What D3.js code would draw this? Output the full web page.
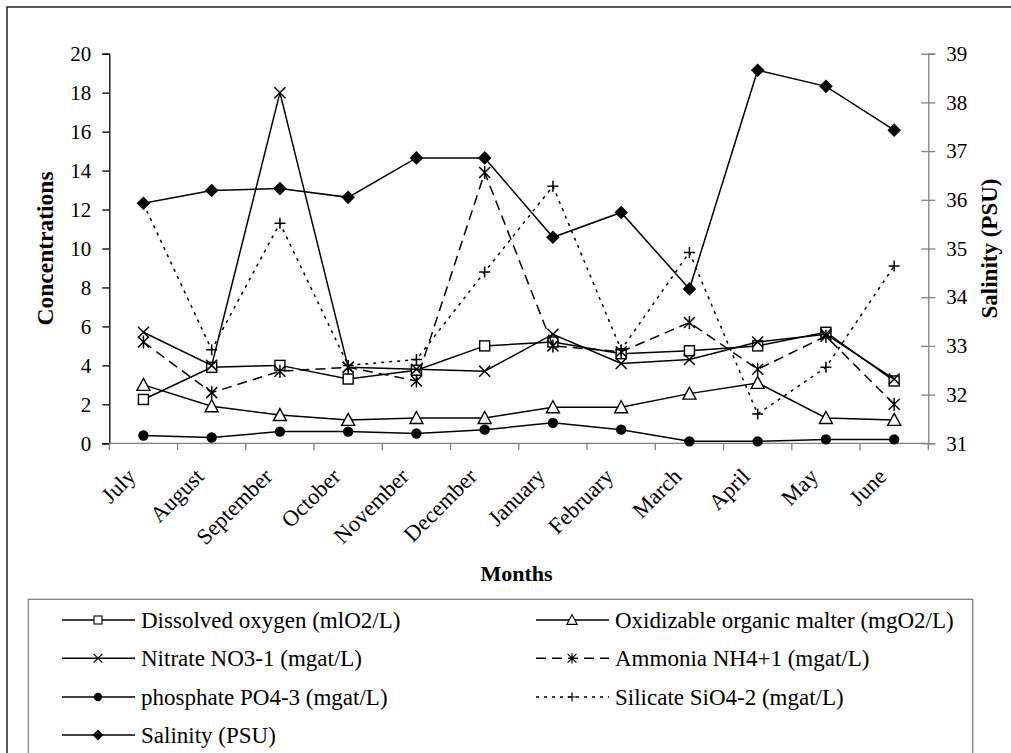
<!DOCTYPE html>
<html>
<head>
<meta charset="utf-8">
<script src="https://cdn.jsdelivr.net/npm/d3@7/dist/d3.min.js"></script>
<style>
  body { margin: 0; background: #fff; }
  svg text { font-family: 'Liberation Serif', 'Times New Roman', serif; fill: #000; }
</style>
</head>
<body>
<svg id="chart" width="1011" height="753"></svg>
<script>
// months along the x axis
const months = ['July', 'August', 'September', 'October', 'November', 'December',
  'January', 'February', 'March', 'April', 'May', 'June'];

// concentrations (left axis)
const dissolvedOxygen = [2.25, 3.9, 4.0, 3.3, 3.75, 5.0, 5.2, 4.6, 4.75, 5.0, 5.7, 3.2];
const organicMatter   = [3.0, 1.9, 1.45, 1.2, 1.3, 1.3, 1.85, 1.85, 2.55, 3.1, 1.3, 1.2];
const nitrate         = [5.7, 4.0, 18.0, 3.9, 3.8, 3.7, 5.6, 4.1, 4.3, 5.2, 5.6, 3.3];
const ammonia         = [5.2, 2.6, 3.7, 3.9, 3.2, 13.9, 5.0, 4.7, 6.2, 3.8, 5.5, 2.0];
const phosphate       = [0.4, 0.3, 0.6, 0.6, 0.5, 0.7, 1.05, 0.7, 0.1, 0.1, 0.2, 0.2];
const silicate        = [12.3, 4.8, 11.3, 4.0, 4.3, 8.8, 13.2, 4.8, 9.8, 1.5, 3.9, 9.1];

// salinity (right axis)
const salinity = [35.93, 36.19, 36.23, 36.05, 36.86, 36.86, 35.23, 35.74, 34.17, 38.66, 38.33, 37.43];

const leftTicks = [0, 2, 4, 6, 8, 10, 12, 14, 16, 18, 20];
const rightTicks = [31, 32, 33, 34, 35, 36, 37, 38, 39];

const series = [
  { name: 'Dissolved oxygen (mlO2/L)', values: dissolvedOxygen, marker: 'square', dash: null, axis: 'left' },
  { name: 'Oxidizable organic malter (mgO2/L)', values: organicMatter, marker: 'triangle', dash: null, axis: 'left' },
  { name: 'Nitrate NO3-1 (mgat/L)', values: nitrate, marker: 'x', dash: null, axis: 'left' },
  { name: 'Ammonia NH4+1 (mgat/L)', values: ammonia, marker: 'star', dash: '10,6', axis: 'left' },
  { name: 'phosphate PO4-3 (mgat/L)', values: phosphate, marker: 'circle', dash: null, axis: 'left' },
  { name: 'Silicate SiO4-2 (mgat/L)', values: silicate, marker: 'plus', dash: '3,5', axis: 'left' },
  { name: 'Salinity (PSU)', values: salinity, marker: 'diamond', dash: null, axis: 'right' }
];

const svg = d3.select('#chart');
const plot = { left: 109.3, right: 928.3, top: 53.7, bottom: 443.3 };

// outer frame
svg.append('rect')
  .attr('x', 7).attr('y', 7).attr('width', 1020).attr('height', 760)
  .attr('fill', 'none').attr('stroke', '#000').attr('stroke-width', 1.3);

const x = d3.scalePoint().domain(months).range([plot.left, plot.right]).padding(0.5);
const xEdge = d3.scaleLinear().domain([0, months.length]).range([plot.left, plot.right]);
const yLeft = d3.scaleLinear().domain([0, 20]).range([plot.bottom, plot.top]);
const yRight = d3.scaleLinear().domain([31, 39]).range([plot.bottom, plot.top]);

// axes
const gLeft = svg.append('g').attr('transform', `translate(${plot.left},0)`)
  .call(d3.axisLeft(yLeft).tickValues(leftTicks).tickSize(7).tickPadding(11));
const gRight = svg.append('g').attr('transform', `translate(${plot.right},0)`)
  .call(d3.axisRight(yRight).tickValues(rightTicks).tickSize(7).tickPadding(11));
// right ticks cross the axis
gRight.selectAll('.tick line').attr('x1', -7);
gRight.selectAll('path.domain, .tick line').attr('stroke', '#808080');

const gBottom = svg.append('g').attr('transform', `translate(0,${plot.bottom})`);
gBottom.append('line')
  .attr('x1', plot.left).attr('x2', plot.right)
  .attr('stroke', '#808080').attr('stroke-width', 1.3);
gBottom.selectAll('line.tk').data(d3.range(months.length + 1)).join('line')
  .attr('class', 'tk')
  .attr('x1', d => xEdge(d)).attr('x2', d => xEdge(d))
  .attr('y1', 0).attr('y2', 7)
  .attr('stroke', '#808080').attr('stroke-width', 1.3);
gBottom.selectAll('text').data(months).join('text')
  .attr('transform', d => `translate(${x(d) - 12},${29}) rotate(-45)`)
  .attr('text-anchor', 'end')
  .attr('dy', '0.35em')
  .style('font-size', '22.5px')
  .text(d => d);

gLeft.select('path.domain').attr('stroke', '#000').attr('stroke-width', 1.3);
gLeft.selectAll('.tick line').attr('stroke', '#000').attr('stroke-width', 1.3);
gRight.select('path.domain').attr('stroke-width', 1.3);
gRight.selectAll('.tick line').attr('stroke-width', 1.3);
[gLeft, gRight].forEach(g => {
  g.selectAll('.tick text').style('font-size', '21px').style('font-family', "'Liberation Serif', serif");
});

// axis titles
svg.append('text')
  .attr('transform', `translate(53,${(plot.top + plot.bottom) / 2}) rotate(-90)`)
  .attr('text-anchor', 'middle')
  .style('font-size', '23.5px').style('font-weight', 'bold')
  .text('Concentrations');
svg.append('text')
  .attr('transform', `translate(997,${(plot.top + plot.bottom) / 2}) rotate(-90)`)
  .attr('text-anchor', 'middle')
  .style('font-size', '23px').style('font-weight', 'bold')
  .text('Salinity (PSU)');
svg.append('text')
  .attr('x', 516.5).attr('y', 581)
  .attr('text-anchor', 'middle')
  .style('font-size', '22px').style('font-weight', 'bold')
  .text('Months');

// marker drawing
function drawMarker(g, type) {
  const r = 5.5;
  if (type === 'square') {
    g.append('rect').attr('x', -5).attr('y', -5).attr('width', 10).attr('height', 10)
      .attr('fill', '#fff').attr('stroke', '#000').attr('stroke-width', 1.4);
  } else if (type === 'triangle') {
    g.append('path').attr('d', 'M0,-6.5L6.5,5.5L-6.5,5.5Z')
      .attr('fill', '#fff').attr('stroke', '#000').attr('stroke-width', 1.4);
  } else if (type === 'circle') {
    g.append('circle').attr('r', 5.2).attr('fill', '#000');
  } else if (type === 'diamond') {
    g.append('path').attr('d', 'M0,-6.8L6.8,0L0,6.8L-6.8,0Z').attr('fill', '#000');
  } else if (type === 'x') {
    g.append('path').attr('d', `M${-r},${-r}L${r},${r}M${-r},${r}L${r},${-r}`)
      .attr('stroke', '#000').attr('stroke-width', 1.5);
  } else if (type === 'star') {
    g.append('path').attr('d', `M${-r},${-r}L${r},${r}M${-r},${r}L${r},${-r}M0,${-r - 1}L0,${r + 1}`)
      .attr('stroke', '#000').attr('stroke-width', 1.5);
  } else if (type === 'plus') {
    g.append('path').attr('d', `M${-r},0L${r},0M0,${-r}L0,${r}`)
      .attr('stroke', '#000').attr('stroke-width', 1.5);
  }
}

// series
series.forEach(s => {
  const y = s.axis === 'left' ? yLeft : yRight;
  const line = d3.line().x((d, i) => x(months[i])).y(d => y(d));
  svg.append('path')
    .datum(s.values)
    .attr('d', line)
    .attr('fill', 'none')
    .attr('stroke', '#000')
    .attr('stroke-width', 1.5)
    .attr('stroke-dasharray', s.dash);
  svg.append('g').selectAll('g').data(s.values).join('g')
    .attr('transform', (d, i) => `translate(${x(months[i])},${y(d)})`)
    .each(function () { drawMarker(d3.select(this), s.marker); });
});

// legend
svg.append('rect')
  .attr('x', 28.3).attr('y', 599.3).attr('width', 944.4).attr('height', 170)
  .attr('fill', 'none').attr('stroke', '#808080').attr('stroke-width', 1.3);

const legendCols = [62, 536];
const legendRows = [620, 658.3, 697, 735];
series.forEach((s, k) => {
  const cx = legendCols[k % 2];
  const cy = legendRows[Math.floor(k / 2)];
  const g = svg.append('g').attr('transform', `translate(${cx},${cy})`);
  g.append('line').attr('x1', 0).attr('x2', 73).attr('y1', 0).attr('y2', 0)
    .attr('stroke', '#000').attr('stroke-width', 1.4)
    .attr('stroke-dasharray', s.dash);
  const m = g.append('g').attr('transform', 'translate(36,0) scale(0.8)');
  drawMarker(m, s.marker);
  g.append('text').attr('x', 79).attr('dy', '0.35em')
    .style('font-size', '23px')
    .text(s.name);
});
</script>
</body>
</html>
